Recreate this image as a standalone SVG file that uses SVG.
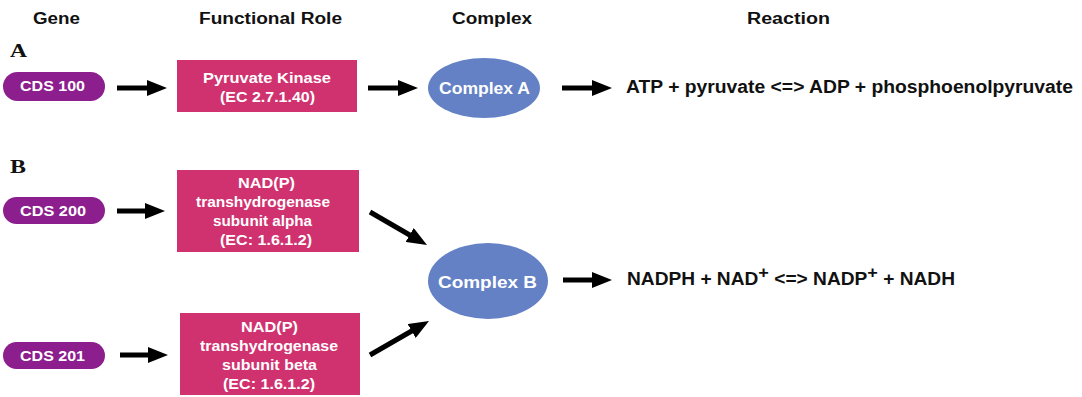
<svg xmlns="http://www.w3.org/2000/svg" width="1082" height="397" viewBox="0 0 1082 397">
<style>
.hdr{font-family:"Liberation Sans",Arial,sans-serif;font-weight:bold;font-size:16px;fill:#111}
.lbl{font-family:"Liberation Serif","Times New Roman",serif;font-weight:bold;font-size:19px;fill:#111}
.gene{fill:#8C1E8E}
.role{fill:#D0316F}
.cplx{fill:#6381C4}
.wt{font-family:"Liberation Sans",Arial,sans-serif;font-weight:bold;font-size:15px;fill:#fff}
.ct{font-family:"Liberation Sans",Arial,sans-serif;font-weight:bold;font-size:16px;fill:#fff}
.rx{font-family:"Liberation Sans",Arial,sans-serif;font-weight:bold;font-size:18px;fill:#111}
.arr{stroke:#000;stroke-width:5;fill:none;marker-end:url(#ah)}
</style>
<defs>
<marker id="ah" viewBox="0 0 20 16" refX="8" refY="8" markerWidth="20" markerHeight="16" markerUnits="userSpaceOnUse" orient="auto">
<path d="M0,0 L20,8 L0,16 z" fill="#000"/>
</marker>
</defs>
<rect width="1082" height="397" fill="#fff"/>
<g id="headers">
<text class="hdr" x="33" y="24" textLength="47" lengthAdjust="spacingAndGlyphs">Gene</text>
<text class="hdr" x="199" y="24" textLength="143" lengthAdjust="spacingAndGlyphs">Functional Role</text>
<text class="hdr" x="452" y="24" textLength="80" lengthAdjust="spacingAndGlyphs">Complex</text>
<text class="hdr" x="747" y="24" textLength="83" lengthAdjust="spacingAndGlyphs">Reaction</text>
<text class="lbl" x="10" y="57" textLength="17" lengthAdjust="spacingAndGlyphs">A</text>
<text class="lbl" x="10" y="173" textLength="16" lengthAdjust="spacingAndGlyphs">B</text>
</g>
<g id="cds100">
<rect class="gene" x="3" y="72" width="102" height="29" rx="14.5"/>
<text class="wt" x="20" y="91" textLength="65" lengthAdjust="spacingAndGlyphs">CDS 100</text>
</g>
<g id="pk">
<rect class="role" x="177" y="60" width="180" height="52"/>
<text class="wt" x="203" y="83" textLength="128" lengthAdjust="spacingAndGlyphs">Pyruvate Kinase</text>
<text class="wt" x="220" y="102" textLength="95" lengthAdjust="spacingAndGlyphs">(EC 2.7.1.40)</text>
</g>
<g id="complexA">
<ellipse class="cplx" cx="484" cy="88" rx="56" ry="30"/>
<text class="ct" x="439" y="94" textLength="91" lengthAdjust="spacingAndGlyphs">Complex A</text>
</g>
<g id="reactionA">
<text class="rx" x="626" y="93" textLength="447" lengthAdjust="spacingAndGlyphs">ATP + pyruvate &lt;=&gt; ADP + phosphoenolpyruvate</text>
</g>
<g id="cds200">
<rect class="gene" x="3" y="197" width="102" height="27" rx="13.5"/>
<text class="wt" x="20" y="216" textLength="66" lengthAdjust="spacingAndGlyphs">CDS 200</text>
</g>
<g id="alpha">
<rect class="role" x="177" y="170" width="182" height="82"/>
<text class="wt" x="238" y="188" textLength="57" lengthAdjust="spacingAndGlyphs">NAD(P)</text>
<text class="wt" x="196" y="207" textLength="134" lengthAdjust="spacingAndGlyphs">transhydrogenase</text>
<text class="wt" x="213" y="226" textLength="99" lengthAdjust="spacingAndGlyphs">subunit alpha</text>
<text class="wt" x="220" y="245" textLength="92" lengthAdjust="spacingAndGlyphs">(EC: 1.6.1.2)</text>
</g>
<g id="cds201">
<rect class="gene" x="3" y="342" width="102" height="27" rx="13.5"/>
<text class="wt" x="20" y="361" textLength="65" lengthAdjust="spacingAndGlyphs">CDS 201</text>
</g>
<g id="beta">
<rect class="role" x="180" y="313" width="180" height="82"/>
<text class="wt" x="241" y="332" textLength="57" lengthAdjust="spacingAndGlyphs">NAD(P)</text>
<text class="wt" x="200" y="351" textLength="138" lengthAdjust="spacingAndGlyphs">transhydrogenase</text>
<text class="wt" x="222" y="370" textLength="95" lengthAdjust="spacingAndGlyphs">subunit beta</text>
<text class="wt" x="223" y="389" textLength="92" lengthAdjust="spacingAndGlyphs">(EC: 1.6.1.2)</text>
</g>
<g id="complexB">
<ellipse class="cplx" cx="488" cy="281" rx="60" ry="38"/>
<text class="ct" x="438" y="288" textLength="99" lengthAdjust="spacingAndGlyphs">Complex B</text>
</g>
<g id="reactionB">
<text class="rx" x="627" y="285" textLength="328" lengthAdjust="spacingAndGlyphs">NADPH + NAD<tspan dy="-7" font-size="17">+</tspan><tspan dy="7"> &lt;=&gt; NADP</tspan><tspan dy="-7" font-size="17">+</tspan><tspan dy="7"> + NADH</tspan></text>
</g>
<g id="connectors">
<line class="arr" x1="117" y1="88" x2="155" y2="88"/>
<line class="arr" x1="368" y1="88" x2="406" y2="88"/>
<line class="arr" x1="562" y1="88" x2="600" y2="88"/>
<line class="arr" x1="117" y1="211" x2="153" y2="211"/>
<line class="arr" x1="120" y1="355" x2="156" y2="355"/>
<line class="arr" x1="370" y1="212" x2="416.6" y2="239"/>
<line class="arr" x1="370" y1="355" x2="418.6" y2="327"/>
<line class="arr" x1="563" y1="280" x2="600" y2="280"/>
</g>
</svg>
